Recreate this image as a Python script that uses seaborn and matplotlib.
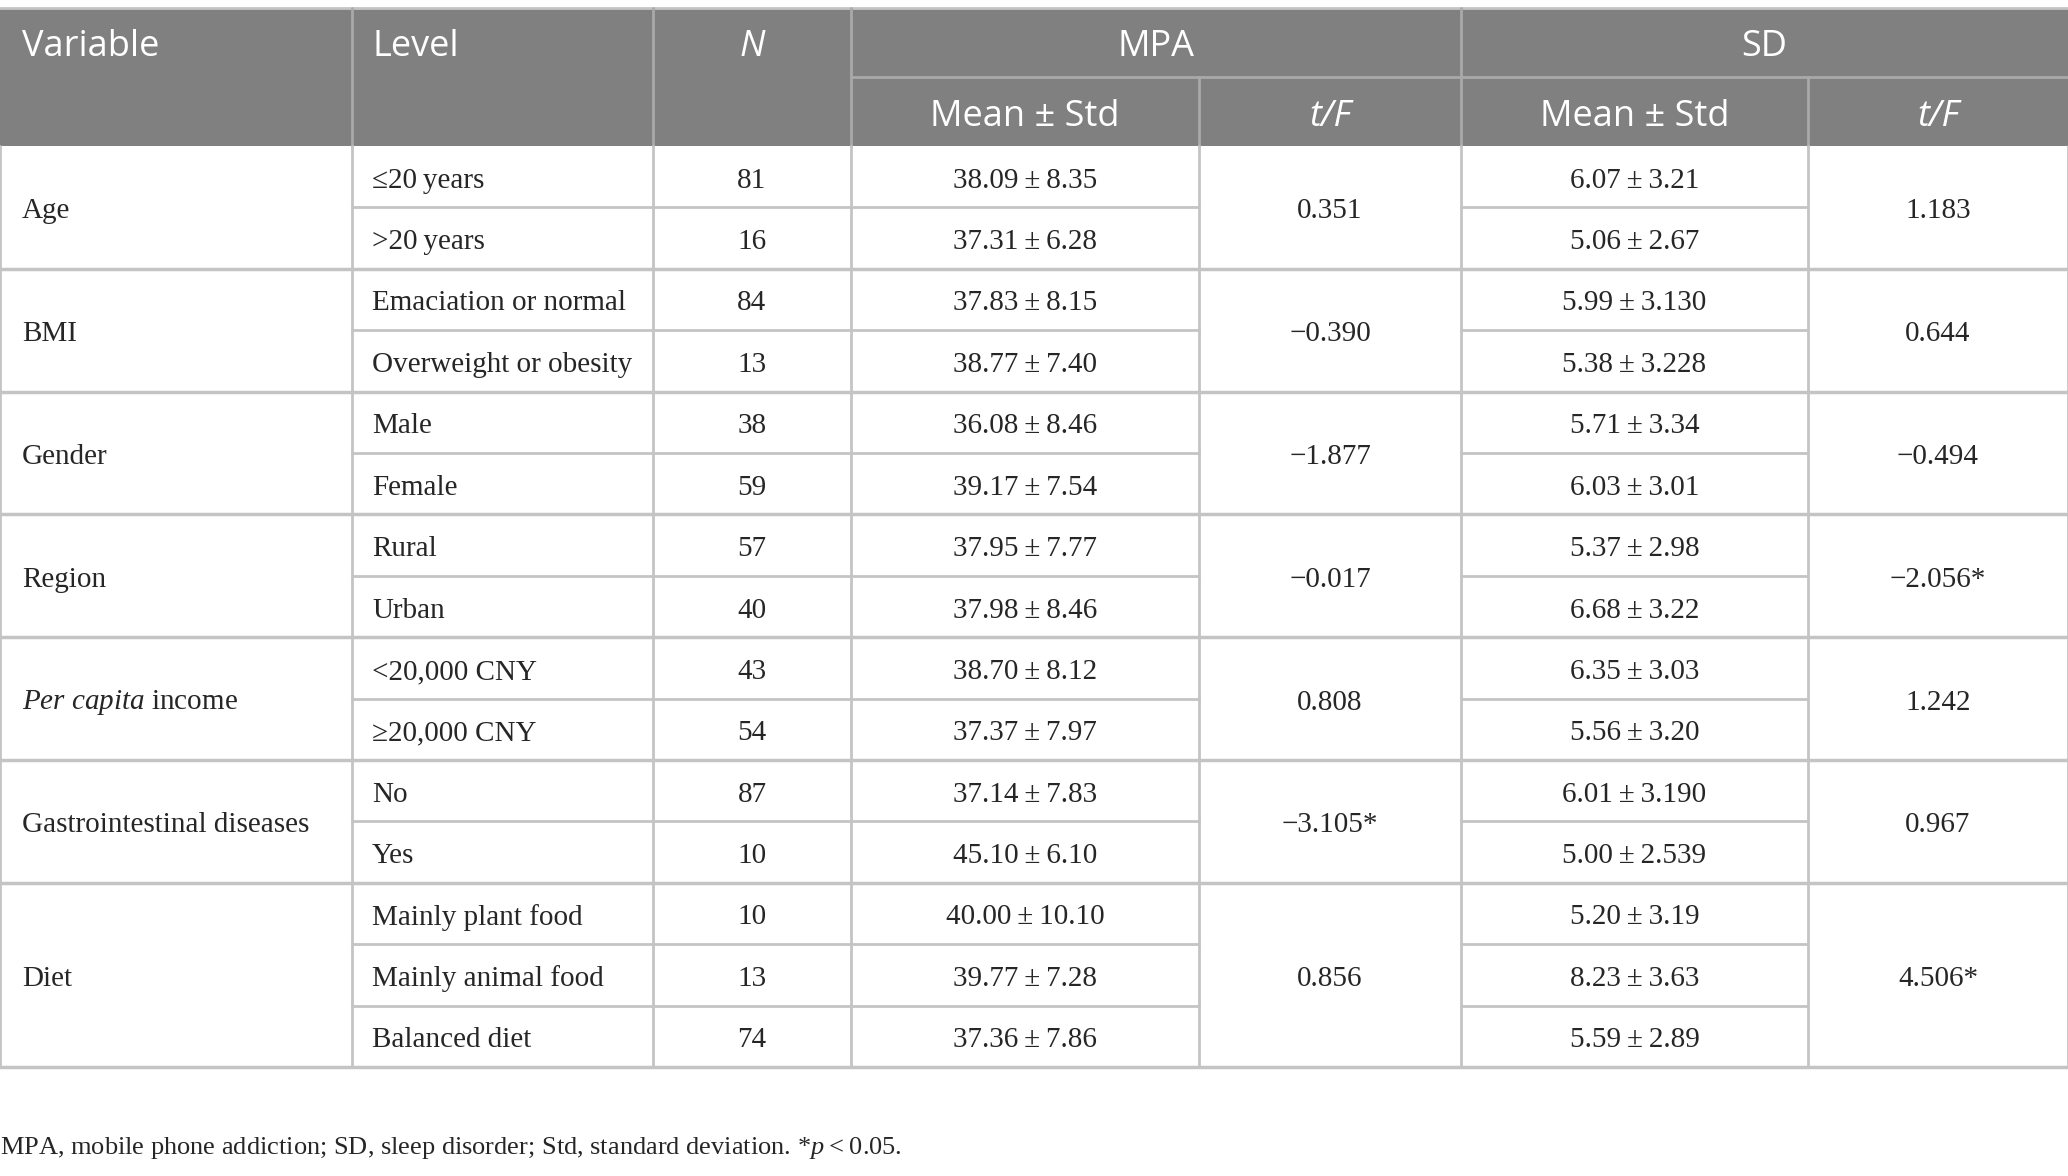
import matplotlib
matplotlib.use("Agg")
import matplotlib.pyplot as plt
import seaborn as sns

sns.set_theme(style="white")
plt.rcParams["font.family"] = ["Liberation Serif", "DejaVu Serif"]
plt.rcParams["mathtext.fontset"] = "custom"
plt.rcParams["mathtext.rm"] = "Liberation Serif"
plt.rcParams["mathtext.it"] = "Liberation Serif:italic"

# table content
variables = ["Age", "BMI", "Gender", "Region", "$Per\\ capita$ income",
             "Gastrointestinal diseases", "Diet"]
levels = [["≤20\u2009years", ">20\u2009years"],
          ["Emaciation or normal", "Overweight or obesity"],
          ["Male", "Female"],
          ["Rural", "Urban"],
          ["<20,000 CNY", "≥20,000 CNY"],
          ["No", "Yes"],
          ["Mainly plant food", "Mainly animal food", "Balanced diet"]]
n_counts = [81, 16, 84, 13, 38, 59, 57, 40, 43, 54, 87, 10, 10, 13, 74]
mpa_mean = ["38.09", "37.31", "37.83", "38.77", "36.08", "39.17", "37.95", "37.98",
            "38.70", "37.37", "37.14", "45.10", "40.00", "39.77", "37.36"]
mpa_std = ["8.35", "6.28", "8.15", "7.40", "8.46", "7.54", "7.77", "8.46",
           "8.12", "7.97", "7.83", "6.10", "10.10", "7.28", "7.86"]
mpa_tf = ["0.351", "−0.390", "−1.877", "−0.017", "0.808", "−3.105*", "0.856"]
sd_mean = ["6.07", "5.06", "5.99", "5.38", "5.71", "6.03", "5.37", "6.68",
           "6.35", "5.56", "6.01", "5.00", "5.20", "8.23", "5.59"]
sd_std = ["3.21", "2.67", "3.130", "3.228", "3.34", "3.01", "2.98", "3.22",
          "3.03", "3.20", "3.190", "2.539", "3.19", "3.63", "2.89"]
sd_tf = ["1.183", "0.644", "−0.494", "−2.056*", "1.242", "0.967", "4.506*"]
footnote = ("MPA, mobile phone addiction; SD, sleep disorder; Std, standard deviation. "
            "*$p$\u2009<\u20090.05.")

# layout in pixels
W, H = 2068, 1176
col_x = [0, 352, 653, 851, 1199, 1461, 1808, 2068]
head_top, head_mid, head_bot = 8, 77, 146
row_h = 61.4
header_bg = "#7f807f"
line_c = "#c4c4c4"
head_line_c = "#a9a9a9"
body_fs = 21
head_fs = 26
head_font = ["Open Sans", "DejaVu Sans"]
dy_head = 5
dy_body = 4

fig = plt.figure(figsize=(W / 100, H / 100), dpi=100)
ax = fig.add_axes([0, 0, 1, 1])
ax.set_xlim(0, W)
ax.set_ylim(H, 0)
ax.axis("off")

# header block
ax.add_patch(plt.Rectangle((0, head_top), W, head_bot - head_top,
                           facecolor=header_bg, edgecolor="none"))
ax.plot([0, W], [head_top, head_top], color=line_c, lw=2)
ax.plot([col_x[3], W], [head_mid, head_mid], color=head_line_c, lw=2)
for x in col_x[1:4] + [col_x[5]]:
    ax.plot([x, x], [head_top, head_bot], color=head_line_c, lw=2)
for x in [col_x[4], col_x[6]]:
    ax.plot([x, x], [head_mid, head_bot], color=head_line_c, lw=2)

hy1 = (head_top + head_mid) / 2 + dy_head
hy2 = (head_mid + head_bot) / 2 + dy_head
ax.text(22, hy1, "Variable", color="white", fontsize=head_fs, family=head_font,
        ha="left", va="center")
ax.text(col_x[1] + 20, hy1, "Level", color="white", fontsize=head_fs, family=head_font,
        ha="left", va="center")
ax.text((col_x[2] + col_x[3]) / 2, hy1, "N", color="white", fontsize=head_fs,
        family=head_font, style="italic", ha="center", va="center")
ax.text((col_x[3] + col_x[5]) / 2, hy1, "MPA", color="white", fontsize=head_fs,
        family=head_font, ha="center", va="center")
ax.text((col_x[5] + col_x[7]) / 2, hy1, "SD", color="white", fontsize=head_fs,
        family=head_font, ha="center", va="center")
for c0, c1, c2 in [(3, 4, 5), (5, 6, 7)]:
    ax.text((col_x[c0] + col_x[c1]) / 2, hy2, "Mean ± Std", color="white",
            fontsize=head_fs, family=head_font, ha="center", va="center")
    ax.text((col_x[c1] + col_x[c2]) / 2, hy2, "t/F", color="white",
            fontsize=head_fs, family=head_font, style="italic", ha="center", va="center")

# body
row = 0
for g, var in enumerate(variables):
    k = len(levels[g])
    y0 = head_bot + row * row_h
    y1 = y0 + k * row_h
    ym = (y0 + y1) / 2 + dy_body
    ax.text(22, ym, var, fontsize=body_fs, ha="left", va="center")
    ax.text((col_x[4] + col_x[5]) / 2, ym, mpa_tf[g], fontsize=body_fs,
            ha="center", va="center")
    ax.text((col_x[6] + col_x[7]) / 2, ym, sd_tf[g], fontsize=body_fs,
            ha="center", va="center")
    for j in range(k):
        r = row + j
        yc = head_bot + (r + 0.5) * row_h + dy_body
        ax.text(col_x[1] + 20, yc, levels[g][j], fontsize=body_fs, ha="left", va="center")
        ax.text((col_x[2] + col_x[3]) / 2, yc, str(n_counts[r]), fontsize=body_fs,
                ha="center", va="center")
        ax.text((col_x[3] + col_x[4]) / 2, yc, f"{mpa_mean[r]}\u2009±\u2009{mpa_std[r]}",
                fontsize=body_fs, ha="center", va="center")
        ax.text((col_x[5] + col_x[6]) / 2, yc, f"{sd_mean[r]}\u2009±\u2009{sd_std[r]}",
                fontsize=body_fs, ha="center", va="center")
        if j > 0:
            yl = head_bot + r * row_h
            ax.plot([col_x[1], col_x[4]], [yl, yl], color=line_c, lw=2)
            ax.plot([col_x[5], col_x[6]], [yl, yl], color=line_c, lw=2)
    ax.plot([0, W], [y1, y1], color=line_c, lw=2.5)
    row += k

table_bot = head_bot + row * row_h
for x in col_x:
    ax.plot([x, x], [head_bot, table_bot], color=line_c, lw=2)

ax.text(0, 1148, footnote, fontsize=19, ha="left", va="center")

fig.savefig("out.png", dpi=100)
